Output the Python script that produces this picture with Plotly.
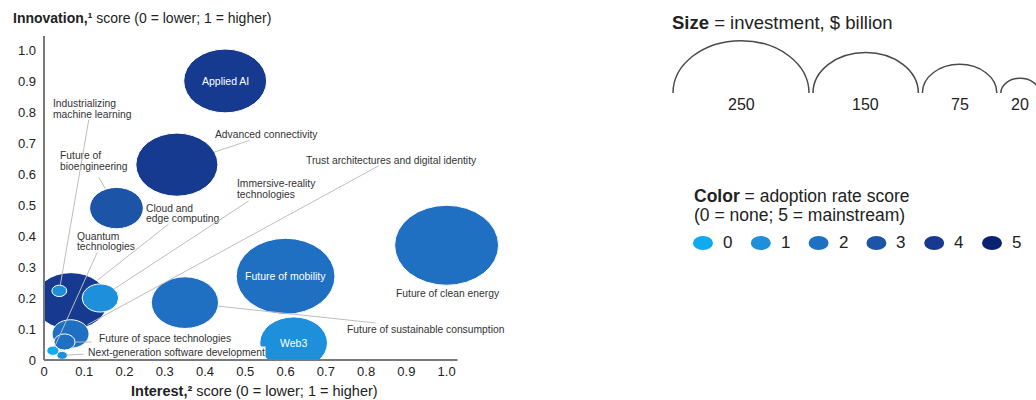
import math
import plotly.graph_objects as go

# ---------------- data ----------------
TECH = [
    "Applied AI", "Advanced connectivity", "Future of bioengineering",
    "Future of clean energy", "Future of mobility", "Future of sustainable consumption",
    "Web3", "Cloud and edge computing", "Immersive-reality technologies",
    "Trust architectures and digital identity", "Future of space technologies",
    "Industrializing machine learning", "Quantum technologies",
    "Next-generation software development",
]
INTEREST = [0.45, 0.33, 0.18, 1.00, 0.60, 0.35, 0.62, 0.067, 0.14, 0.066, 0.051, 0.038, 0.022, 0.045]
INNOVATION = [0.90, 0.63, 0.49, 0.37, 0.27, 0.185, 0.055, 0.19, 0.20, 0.084, 0.058, 0.223, 0.03, 0.015]
INVESTMENT = [93, 91, 39, 146, 132, 61, 62, 74, 18, 18.5, 6, 3, 2, 1.5]   # $ billion
ADOPTION = [4, 4, 3, 2, 2, 2, 1, 4, 1, 2, 2, 1, 0, 1]

ADOPTION_LEVELS = [0, 1, 2, 3, 4, 5]
ADOPTION_COLORS = ["#0EABEE", "#1E8FDB", "#1F70C2", "#1C55A8", "#163A90", "#0B2272"]
SIZE_LEGEND_VALUES = [250, 150, 75, 20]

X_TICKS = [0, 0.1, 0.2, 0.3, 0.4, 0.5, 0.6, 0.7, 0.8, 0.9, 1.0]
X_TICK_LABELS = ["0", "0.1", "0.2", "0.3", "0.4", "0.5", "0.6", "0.7", "0.8", "0.9", "1.0"]
Y_TICKS = [0, 0.1, 0.2, 0.3, 0.4, 0.5, 0.6, 0.7, 0.8, 0.9, 1.0]
Y_TICK_LABELS = ["0", "0.1", "0.2", "0.3", "0.4", "0.5", "0.6", "0.7", "0.8", "0.9", "1.0"]

# ---------------- layout / style ----------------
W, H = 1036, 400
PLOT_L, PLOT_T, PLOT_W, PLOT_H = 44, 36, 463, 324
X_MAX, Y_MAX = 1.15, 1.045
X_AXIS_END = 1.027
RX_250 = 68.0          # px half-width of a 250 bubble
ASPECT = 1.30          # bubbles drawn as horizontally stretched ellipses
FONT = "Arial, 'Liberation Sans', sans-serif"
TXT = "#333333"
LEAD = "#bdbdbd"
AXIS_COLOR = "#7a7a7a"
LABEL_SIZE = 10.3
LINE_GAP_PX = 10.5


def rx_of(v):
    return RX_250 * math.sqrt(v / 250.0)


def paper(px, py):
    return (px - PLOT_L) / PLOT_W, (PLOT_T + PLOT_H - py) / PLOT_H


fig = go.Figure()

# invisible trace carrying the data (hover)
fig.add_trace(go.Scatter(
    x=INTEREST, y=INNOVATION, mode="markers", text=TECH,
    customdata=list(zip(INVESTMENT, ADOPTION)),
    hovertemplate="%{text}<br>Interest %{x}<br>Innovation %{y}<br>"
                  "Investment $%{customdata[0]}B<br>Adoption %{customdata[1]}<extra></extra>",
    marker=dict(size=14, opacity=0), showlegend=False,
))

shapes = []
order = sorted(range(len(TECH)), key=lambda i: -INVESTMENT[i])
for i in order:
    rx = rx_of(INVESTMENT[i])
    ry = rx / ASPECT
    shapes.append(dict(
        type="circle", xref="x", yref="y", xsizemode="pixel", ysizemode="pixel",
        xanchor=INTEREST[i], yanchor=INNOVATION[i],
        x0=-rx, x1=rx, y0=-ry, y1=ry,
        fillcolor=ADOPTION_COLORS[ADOPTION[i]],
        line=dict(color="white", width=1), layer="above",
    ))

# axis lines (drawn as shapes so the bubbles can overflow the right end)
xe, _ = paper(PLOT_L + X_AXIS_END * PLOT_W / X_MAX, 0)
shapes.append(dict(type="line", xref="paper", yref="paper", x0=0, x1=xe, y0=0, y1=0,
                   line=dict(color=AXIS_COLOR, width=2), layer="above"))
shapes.append(dict(type="line", xref="paper", yref="paper", x0=0, x1=0, y0=0, y1=1,
                   line=dict(color=AXIS_COLOR, width=2), layer="above"))

annotations = []

# text inside bubbles
for name in ["Applied AI", "Future of mobility", "Web3"]:
    i = TECH.index(name)
    annotations.append(dict(x=INTEREST[i], y=INNOVATION[i], xref="x", yref="y", text=name,
                            showarrow=False, font=dict(family=FONT, size=10.5, color="white")))

# outside labels: name -> (x, y of block centre, lines)
LABELS = {
    "Industrializing machine learning": (0.0174, 0.81, ["Industrializing", "machine learning"]),
    "Future of bioengineering": (0.0348, 0.642, ["Future of", "bioengineering"]),
    "Quantum technologies": (0.077, 0.382, ["Quantum", "technologies"]),
    "Cloud and edge computing": (0.248, 0.473, ["Cloud and", "edge computing"]),
    "Immersive-reality technologies": (0.474, 0.552, ["Immersive-reality", "technologies"]),
    "Advanced connectivity": (0.42, 0.726, ["Advanced connectivity"]),
    "Trust architectures and digital identity": (0.646, 0.645, ["Trust architectures and digital identity"]),
    "Future of clean energy": (0.869, 0.216, ["Future of clean energy"]),
    "Future of sustainable consumption": (0.7476, 0.100, ["Future of sustainable consumption"]),
    "Future of space technologies": (0.1316, 0.068, ["Future of space technologies"]),
    "Next-generation software development": (0.1068, 0.0226, ["Next-generation software development"]),
}
gap = LINE_GAP_PX * Y_MAX / PLOT_H
for name, (lx, ly, lines) in LABELS.items():
    n = len(lines)
    for k, line in enumerate(lines):
        yk = ly + ((n - 1) / 2 - k) * gap
        a = dict(x=lx, y=yk, xref="x", yref="y", text=line, showarrow=False, align="left",
                 xanchor="left", yanchor="middle", font=dict(family=FONT, size=LABEL_SIZE, color=TXT))
        if name.startswith("Next-generation"):
            a.update(bgcolor="white", borderpad=0)
        annotations.append(a)

# leader lines: name -> (tail x, tail y, standoff px)
LEADERS = {
    "Industrializing machine learning": (0.112, 0.781, 6),
    "Future of bioengineering": (0.134, 0.594, 22),
    "Quantum technologies": (0.134, 0.352, 4),
    "Cloud and edge computing": (0.313, 0.442, 34),
    "Immersive-reality technologies": (0.512, 0.516, 16),
    "Trust architectures and digital identity": (0.835, 0.629, 19),
    "Advanced connectivity": (0.514, 0.71, 40),
    "Future of sustainable consumption": (0.827, 0.119, 33),
    "Future of space technologies": (0.122, 0.058, 10),
    "Next-generation software development": (0.102, 0.019, 5),
}
for name, (tx, ty, so) in LEADERS.items():
    i = TECH.index(name)
    annotations.append(dict(x=INTEREST[i], y=INNOVATION[i], xref="x", yref="y",
                            ax=tx, ay=ty, axref="x", ayref="y", text="",
                            showarrow=True, arrowhead=0, arrowwidth=1, arrowcolor=LEAD,
                            standoff=so))

# axis titles
px_, py_ = paper(11, 18)
annotations.append(dict(x=px_, y=py_, xref="paper", yref="paper", xanchor="left", yanchor="middle",
                        showarrow=False, text="<b>Innovation,¹</b> score (0 = lower; 1 = higher)",
                        font=dict(family=FONT, size=14, color="#222")))
px_, py_ = paper(254, 391)
annotations.append(dict(x=px_, y=py_, xref="paper", yref="paper", xanchor="center", yanchor="middle",
                        showarrow=False, text="<b>Interest,²</b> score (0 = lower; 1 = higher)",
                        font=dict(family=FONT, size=14.5, color="#222")))

# ---------------- size legend ----------------
px_, py_ = paper(670, 22)
annotations.append(dict(x=px_, y=py_, xref="paper", yref="paper", xanchor="left", yanchor="middle",
                        showarrow=False, text="<b>Size</b> = investment, $ billion",
                        font=dict(family=FONT, size=18.5, color="#222")))
K = 0.5523
left = 673.0
for v in SIZE_LEGEND_VALUES:
    rx = rx_of(v)
    ry = rx / ASPECT
    cx = left + rx
    ax_, ay_ = paper(cx, 93)
    path = (f"M {-rx:.2f},0 C {-rx:.2f},{K*ry:.2f} {-K*rx:.2f},{ry:.2f} 0,{ry:.2f} "
            f"C {K*rx:.2f},{ry:.2f} {rx:.2f},{K*ry:.2f} {rx:.2f},0")
    shapes.append(dict(type="path", xref="paper", yref="paper", xsizemode="pixel", ysizemode="pixel",
                       xanchor=ax_, yanchor=ay_, path=path,
                       line=dict(color="#4a4a4a", width=1.5)))
    lx, ly = paper(cx, 105)
    annotations.append(dict(x=lx, y=ly, xref="paper", yref="paper", showarrow=False,
                            xanchor="center", yanchor="middle", text=str(v),
                            font=dict(family=FONT, size=16, color="#222")))
    left = cx + rx + 4

# ---------------- colour legend ----------------
px_, py_ = paper(692, 196)
annotations.append(dict(x=px_, y=py_, xref="paper", yref="paper", xanchor="left", yanchor="middle",
                        showarrow=False, text="<b>Color</b> = adoption rate score",
                        font=dict(family=FONT, size=17.5, color="#222")))
px_, py_ = paper(692, 215)
annotations.append(dict(x=px_, y=py_, xref="paper", yref="paper", xanchor="left", yanchor="middle",
                        showarrow=False, text="(0 = none; 5 = mainstream)",
                        font=dict(family=FONT, size=17.5, color="#222")))
for k, lvl in enumerate(ADOPTION_LEVELS):
    cx = 703 + k * 57.8
    ax_, ay_ = paper(cx, 243)
    shapes.append(dict(type="circle", xref="paper", yref="paper", xsizemode="pixel", ysizemode="pixel",
                       xanchor=ax_, yanchor=ay_, x0=-10, x1=10, y0=-7, y1=7,
                       fillcolor=ADOPTION_COLORS[lvl], line=dict(width=0)))
    lx, ly = paper(cx + 18, 243)
    annotations.append(dict(x=lx, y=ly, xref="paper", yref="paper", showarrow=False,
                            xanchor="left", yanchor="middle", text=str(lvl),
                            font=dict(family=FONT, size=17, color="#222")))

fig.update_layout(
    width=W, height=H, autosize=False,
    margin=dict(l=PLOT_L, r=W - PLOT_L - PLOT_W, t=PLOT_T, b=H - PLOT_T - PLOT_H, pad=0),
    paper_bgcolor="white", plot_bgcolor="white",
    showlegend=False, shapes=shapes, annotations=annotations,
    xaxis=dict(range=[0, X_MAX], tickvals=X_TICKS, ticktext=X_TICK_LABELS, showgrid=False,
               zeroline=False, showline=False, ticks="", ticklabelstandoff=2,
               tickfont=dict(family=FONT, size=13, color="#222"), fixedrange=True),
    yaxis=dict(range=[0, Y_MAX], tickvals=Y_TICKS, ticktext=Y_TICK_LABELS, showgrid=False,
               zeroline=False, showline=False, ticks="", ticklabelstandoff=7,
               tickfont=dict(family=FONT, size=13, color="#222"), fixedrange=True),
    hoverlabel=dict(font=dict(family=FONT)),
)

fig.write_html("out.html")
